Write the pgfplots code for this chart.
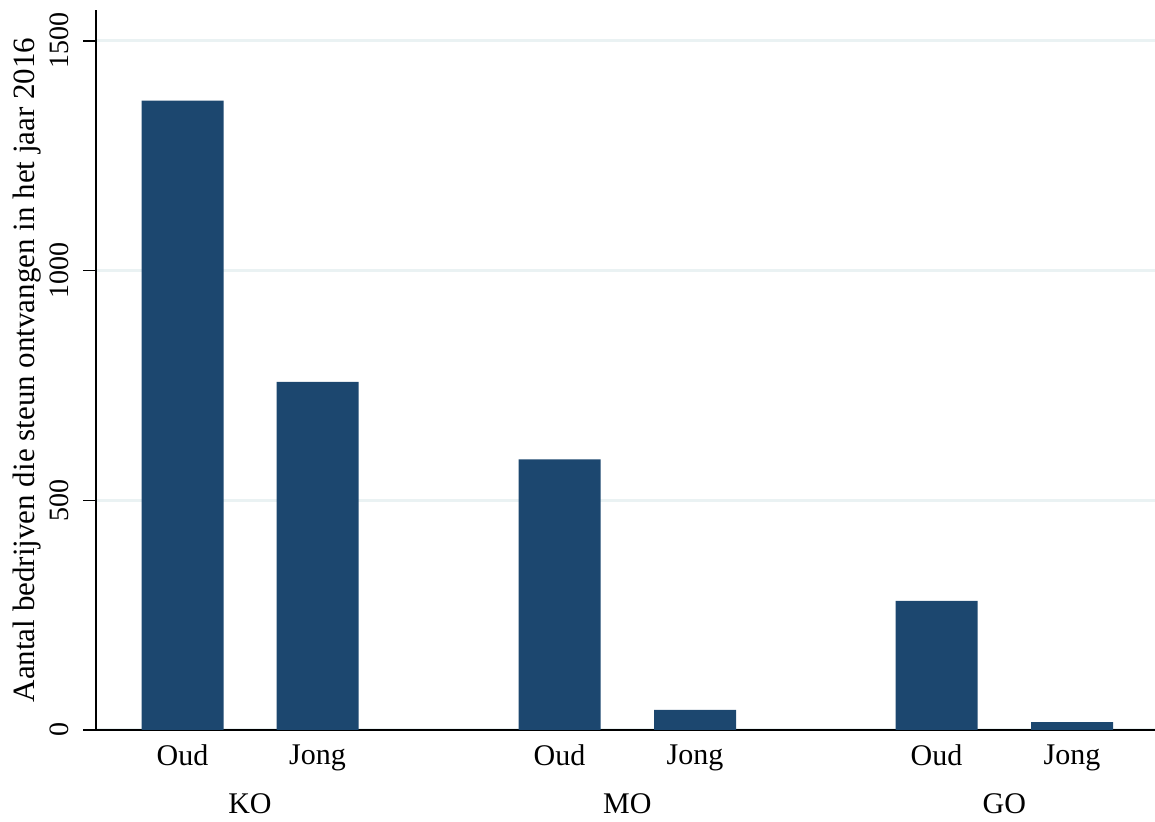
\documentclass[border=0pt]{standalone}
\usepackage{fontspec}
\setmainfont{Liberation Serif}
\usepackage{pgfplots}
\pgfplotsset{compat=1.18}
\definecolor{statanavy}{RGB}{28,71,111}
\definecolor{gridc}{RGB}{234,242,243}
\begin{document}
\begin{tikzpicture}
\useasboundingbox (0,0) rectangle (577.5pt,411pt);
\begin{axis}[
  at={(48pt,46pt)}, anchor=south west,
  scale only axis, width=529.5pt, height=360pt,
  xmin=96, xmax=1155, ymin=0, ymax=1567.5,
  axis x line*=bottom, axis y line*=left,
  axis line style={black, line width=0.6pt},
  ytick={0,500,1000,1500},
  scaled ticks=false,
  /pgf/number format/1000 sep={},
  /pgf/number format/assume math mode=true,
  ymajorgrids, grid style={gridc, line width=1.5pt},
  tick align=outside,
  major tick length=6.5pt,
  y tick style={black, line width=0.6pt},
  x tick style={draw=none},
  yticklabel style={rotate=90, anchor=south, yshift=3.5pt, font=\fontsize{14}{14}\selectfont},
  xtick={182.5,317.5,559.5,695,936.5,1072},
  xticklabels={Oud,Jong,Oud,Jong,Oud,Jong},
  xticklabel style={yshift=2.5pt, font=\fontsize{15}{15}\selectfont},
  extra x ticks={250,627.25,1004.25},
  extra x tick labels={KO,MO,GO},
  extra x tick style={tick label style={yshift=-24.5pt, font=\fontsize{18.5}{18.5}\selectfont}},
  ylabel={Aantal bedrijven die steun ontvangen in het jaar 2016},
  every axis y label/.style={at={(axis description cs:0,0.5)}, xshift=-34.5pt, rotate=90, anchor=center, font=\fontsize{15.5}{15.5}\selectfont},
  ybar, bar width=82, bar shift=0pt,
]
\addplot[fill=statanavy, draw=none] coordinates {(182.5,1370) (317.5,758) (559.5,589) (695,44) (936.5,281) (1072,17)};
\end{axis}
\end{tikzpicture}
\end{document}
